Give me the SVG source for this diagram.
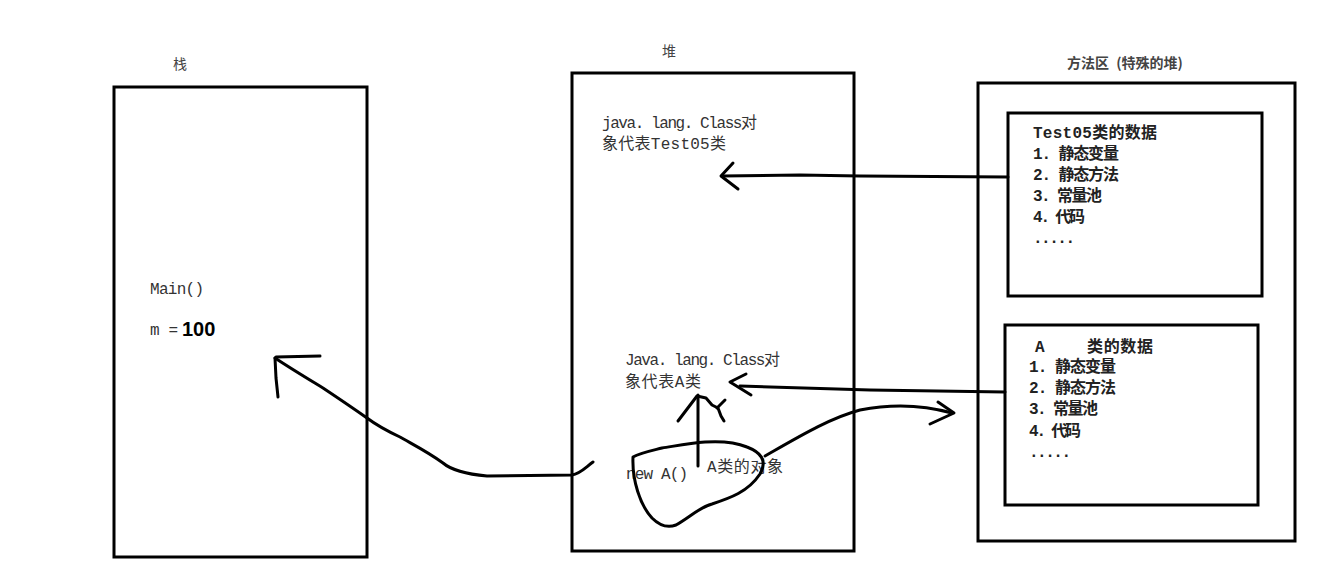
<svg xmlns="http://www.w3.org/2000/svg" width="1323" height="564" viewBox="0 0 1323 564">
<style>
.box{fill:none;stroke:#000;stroke-width:3}
.t{font-family:"Liberation Mono","Noto Sans CJK SC",monospace;font-size:16px;fill:#333}
.b{font-weight:bold;fill:#222}
.lbl{font-family:"Noto Sans CJK SC",sans-serif;font-size:14px;fill:#444}
.ink{fill:none;stroke:#000;stroke-width:3;stroke-linecap:round;stroke-linejoin:round}
</style>
<rect width="1323" height="564" fill="#fff"/>
<g id="stack">
<text class="lbl" x="173" y="69">栈</text>
<rect class="box" x="114" y="87" width="253" height="470"/>
<text class="t" x="150" y="294" textLength="54" lengthAdjust="spacing">Main()</text>
<text class="t" x="150" y="335" textLength="28" lengthAdjust="spacing">m =</text>
<text x="182" y="336" font-family="Liberation Sans,sans-serif" font-size="20" font-weight="bold" fill="#000">100</text>
</g>
<g id="heap">
<text class="lbl" x="662" y="56">堆</text>
<rect class="box" x="572" y="73" width="282" height="478"/>
<text class="t" x="602" y="128" textLength="155" lengthAdjust="spacing">java. lang. Class对</text>
<text class="t" x="602" y="149" textLength="124" lengthAdjust="spacing">象代表Test05类</text>
<text class="t" x="625" y="365" textLength="155" lengthAdjust="spacing">Java. lang. Class对</text>
<text class="t" x="625" y="387" textLength="76" lengthAdjust="spacing">象代表A类</text>
<text class="t" x="626" y="479" textLength="62" lengthAdjust="spacing">new A()</text>
<text class="t" x="707" y="472" textLength="76" lengthAdjust="spacing">A类的对象</text>
</g>
<g id="method-area">
<text class="lbl" x="1067" y="68" font-size="15" font-weight="bold">方法区 <tspan dx="4">(特殊的堆)</tspan></text>
<rect class="box" x="978" y="83" width="317" height="458"/>
</g>
<g id="test05-data">
<rect class="box" x="1008" y="113" width="254" height="183"/>
<text class="t b" x="1033" y="138" textLength="124" lengthAdjust="spacing">Test05类的数据</text>
<text class="t b" x="1033" y="159" textLength="86" lengthAdjust="spacing">1. 静态变量</text>
<text class="t b" x="1033" y="180" textLength="86" lengthAdjust="spacing">2. 静态方法</text>
<text class="t b" x="1033" y="201" textLength="69" lengthAdjust="spacing">3. 常量池</text>
<text class="t b" x="1033" y="222" textLength="52" lengthAdjust="spacing">4. 代码</text>
<text class="t b" x="1033" y="243" textLength="42" lengthAdjust="spacing">.....</text>
</g>
<g id="a-data">
<rect class="box" x="1005" y="325" width="253" height="180"/>
<text class="t b" x="1035" y="352">A</text>
<text class="t b" x="1087" y="352" textLength="66" lengthAdjust="spacing">类的数据</text>
<text class="t b" x="1029" y="372" textLength="87" lengthAdjust="spacing">1. 静态变量</text>
<text class="t b" x="1029" y="393" textLength="87" lengthAdjust="spacing">2. 静态方法</text>
<text class="t b" x="1029" y="414" textLength="69" lengthAdjust="spacing">3. 常量池</text>
<text class="t b" x="1029" y="436" textLength="52" lengthAdjust="spacing">4. 代码</text>
<text class="t b" x="1029" y="457" textLength="42" lengthAdjust="spacing">.....</text>
</g>
<g id="connectors">
<path class="ink" d="M1008,177 L860,176 L800,175 L722,176"/>
<path class="ink" d="M733,163 L721,176 L738,189"/>
<path class="ink" d="M1005,392 L870,390 L740,386"/>
<path class="ink" d="M746,374 L730,382 L751,395"/>
<path class="ink" d="M765,456 C800,436 830,418 860,410 C890,404 920,404 952,413"/>
<path class="ink" d="M938,402 L954,413 L930,424"/>
<path class="ink" d="M698,466 L698,395"/>
<path class="ink" d="M678,421 L697,396 L706,398 L712,405 L718,408 L721,416 L724,421"/>
<path class="ink" d="M717,408 L725,400" stroke-width="2"/>
<path class="ink" d="M633,457 C632,480 640,505 652,518 C660,526 668,528 676,525 C690,517 700,507 712,504 C730,498 748,492 760,474 C768,460 760,452 747,447 C735,442 720,441 705,442 C690,443 675,446 662,448 C650,451 640,453 633,457 Z"/>
<path class="ink" d="M593,462 C585,468 580,474 572,475 L487,476 C465,474 450,469 443,463 C428,452 412,444 400,437 C385,430 375,424 367,418 C350,406 335,396 323,388 C305,377 290,368 275,358"/>
<path class="ink" d="M276,357 L320,356 M275,358 L276,378 L278,397"/>
</g>
</svg>
